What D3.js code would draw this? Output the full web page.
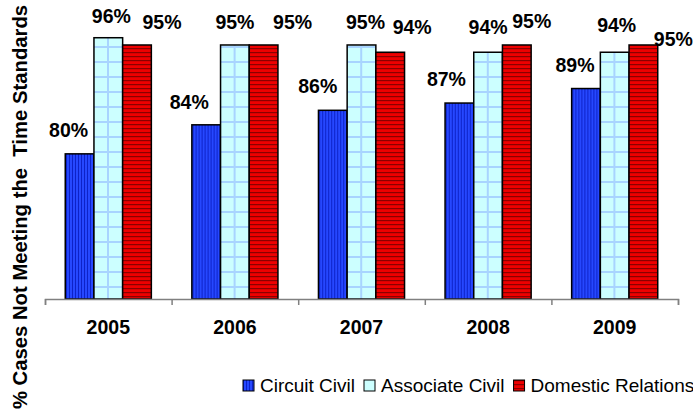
<!DOCTYPE html>
<html>
<head>
<meta charset="utf-8">
<script src="https://cdn.jsdelivr.net/npm/d3@7"></script>
<style>
  html, body { margin: 0; padding: 0; background: #ffffff; }
  svg { display: block; font-family: Arial, "Liberation Sans", sans-serif; }
</style>
</head>
<body>
<svg id="chart" width="693" height="414"></svg>
<script>
// ---- data ----
const years = ["2005", "2006", "2007", "2008", "2009"];
const seriesNames = ["Circuit Civil", "Associate Civil", "Domestic Relations"];
const circuitCivil   = [80, 84, 86, 87, 89];
const associateCivil = [96, 95, 95, 94, 94];
const domesticRel    = [95, 95, 94, 95, 95];
const yDomain = [60, 100];

// ---- layout (label nudges, as placed in the original) ----
const labelDx = [[-11, -17, -15, -13, -11], [3, 0, 4, 0, 2], [25, 29, 22, 15, 30]];
const labelDy = [[-17, -16, -17, -17, -17], [-15, -16, -16, -18, -20], [-16, -16, -18, -17, 1]];

const seriesValues = [circuitCivil, associateCivil, domesticRel];
const svg = d3.select("#chart");
const plotL = 45, plotR = 678, baseY = 299, topY = 8.7;

// patterns
const defs = svg.append("defs");
const pBlue = defs.append("pattern").attr("id", "pBlue").attr("patternUnits", "userSpaceOnUse")
  .attr("width", 3).attr("height", 10);
pBlue.append("rect").attr("width", 3).attr("height", 10).attr("fill", "#2648ff");
pBlue.append("rect").attr("x", 0).attr("width", 1).attr("height", 10).attr("fill", "#0d22c8");

const pLight = defs.append("pattern").attr("id", "pLight").attr("patternUnits", "userSpaceOnUse")
  .attr("width", 15).attr("height", 15).attr("x", 2).attr("y", 1);
pLight.append("rect").attr("width", 15).attr("height", 15).attr("fill", "#ccffff");
pLight.append("rect").attr("x", 0).attr("y", 0).attr("width", 15).attr("height", 2).attr("fill", "#a8d4ff");
pLight.append("rect").attr("x", 0).attr("y", 0).attr("width", 2).attr("height", 15).attr("fill", "#a8d4ff");

const pRed = defs.append("pattern").attr("id", "pRed").attr("patternUnits", "userSpaceOnUse")
  .attr("width", 10).attr("height", 4);
pRed.append("rect").attr("width", 10).attr("height", 4).attr("fill", "#ee0000");
pRed.append("rect").attr("y", 0).attr("width", 10).attr("height", 1.2).attr("fill", "#8a0000");

const fills = ["url(#pBlue)", "url(#pLight)", "url(#pRed)"];

// scales
const x0 = d3.scaleBand().domain(years).range([plotL, plotR]).paddingInner(0).paddingOuter(0);
const bw = x0.bandwidth();
const groupFrac = 0.68;
const x1 = d3.scaleBand().domain(d3.range(seriesNames.length))
  .range([bw * (1 - groupFrac) / 2, bw * (1 + groupFrac) / 2]).padding(0);
const y = d3.scaleLinear().domain(yDomain).range([baseY, topY]);

// bars
const groups = svg.append("g").selectAll("g").data(years).join("g")
  .attr("transform", d => `translate(${x0(d)},0)`);
groups.selectAll("rect").data((d, i) => seriesValues.map((s, k) => ({ k, v: s[i], i })))
  .join("rect")
  .attr("x", d => x1(d.k))
  .attr("y", d => y(d.v))
  .attr("width", x1.bandwidth())
  .attr("height", d => baseY - y(d.v))
  .attr("fill", d => fills[d.k])
  .attr("stroke", "#000")
  .attr("stroke-width", 1.5);

// data labels
groups.selectAll("text.lbl").data((d, i) => seriesValues.map((s, k) => ({ k, v: s[i], i })))
  .join("text").attr("class", "lbl")
  .attr("x", d => x1(d.k) + x1.bandwidth() / 2 + labelDx[d.k][d.i])
  .attr("y", d => y(d.v) + labelDy[d.k][d.i])
  .attr("text-anchor", "middle")
  .attr("font-size", "19.5px").attr("font-weight", "bold").attr("fill", "#000")
  .text(d => d.v + "%");

// x axis: baseline with boundary ticks
const axisG = svg.append("g").attr("transform", `translate(0,${baseY})`);
const xBound = d3.scaleLinear().domain([0, years.length]).range([plotL, plotR]);
axisG.call(d3.axisBottom(xBound).tickValues(d3.range(years.length + 1))
  .tickSize(6).tickFormat(""));
axisG.select(".domain").attr("stroke", "#808080").attr("stroke-width", 1.5);
axisG.selectAll(".tick line").attr("stroke", "#808080").attr("stroke-width", 1.5);

// year labels
svg.append("g").selectAll("text").data(years).join("text")
  .attr("x", d => x0(d) + bw / 2)
  .attr("y", 334)
  .attr("text-anchor", "middle")
  .attr("font-size", "19.5px").attr("font-weight", "bold")
  .text(d => d);

// y title
svg.append("text")
  .attr("transform", `translate(27,207) rotate(-90)`)
  .attr("text-anchor", "middle")
  .attr("font-size", "20.3px").attr("font-weight", "bold")
  .style("white-space", "pre")
  .text("% Cases Not Meeting the  Time Standards");

// legend
const leg = svg.append("g");
let lx = 243;
const legY = 392, sw = 11;
seriesNames.forEach((name, k) => {
  leg.append("rect").attr("x", lx).attr("y", legY - 12).attr("width", sw).attr("height", sw)
    .attr("fill", fills[k]).attr("stroke", "#000").attr("stroke-width", 1);
  lx += sw + 6;
  const t = leg.append("text").attr("x", lx).attr("y", legY)
    .attr("font-size", "19px").text(name);
  lx += t.node().getComputedTextLength() + 9;
});
</script>
</body>
</html>
